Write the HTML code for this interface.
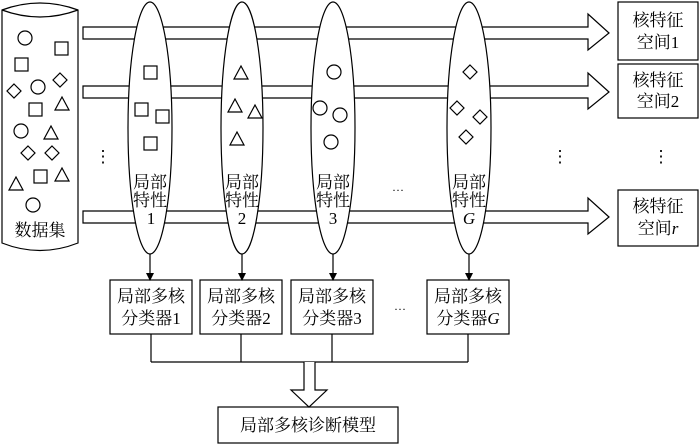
<!DOCTYPE html>
<html><head><meta charset="utf-8"><style>
html,body{margin:0;padding:0;background:#fff}
svg{display:block}
text{font-family:"Liberation Serif","Noto Serif CJK SC","Noto Sans CJK SC",serif;fill:#000}
</style></head><body>
<svg width="700" height="444" viewBox="0 0 700 444" xmlns="http://www.w3.org/2000/svg">
<defs>
<marker id="ah" markerWidth="8" markerHeight="8" refX="7" refY="4" orient="auto" markerUnits="userSpaceOnUse">
<path d="M0,0 L8,4 L0,8 Z" fill="#000"/></marker>
</defs>
<g fill="none" stroke="#000" stroke-width="1.2">
<path d="M2,10 Q40,-4 78,10 L78,243 Q40,258 2,243 Z" fill="#fff"/>
<path d="M2,10 Q40,24 78,10"/>
<path d="M83,27 L588,27 L588,14 L609,33 L588,50 L588,39 L83,39 Z" fill="#fff"/>
<path d="M83,86 L588,86 L588,73 L609,92 L588,109 L588,98 L83,98 Z" fill="#fff"/>
<path d="M83,211 L588,211 L588,198 L609,217 L588,234 L588,223 L83,223 Z" fill="#fff"/>
<ellipse cx="150" cy="128" rx="22" ry="126" fill="#fff"/>
<ellipse cx="242" cy="128" rx="21" ry="126" fill="#fff"/>
<ellipse cx="333" cy="128" rx="22" ry="126" fill="#fff"/>
<ellipse cx="469" cy="128" rx="22" ry="126" fill="#fff"/>
<rect x="618" y="2" width="80" height="58"/>
<rect x="618" y="64" width="80" height="54"/>
<rect x="618" y="190" width="80" height="56"/>
<line x1="150" y1="254" x2="150" y2="280" marker-end="url(#ah)"/>
<line x1="242" y1="254" x2="242" y2="280" marker-end="url(#ah)"/>
<line x1="333" y1="254" x2="333" y2="280" marker-end="url(#ah)"/>
<line x1="469" y1="254" x2="469" y2="280" marker-end="url(#ah)"/>
<rect x="110" y="280" width="82" height="54"/>
<rect x="200" y="280" width="82" height="54"/>
<rect x="291" y="280" width="82" height="54"/>
<rect x="427" y="280" width="82" height="54"/>
<path d="M151,334 V362 M241,334 V362 M332,334 V362 M468,334 V362 M151,362 H468"/>
<path d="M304,362 V390 H291 L309,407 L327,390 H315 V362" fill="#fff"/>
<rect x="218" y="407" width="180" height="36"/>
<circle cx="25" cy="38" r="7"/><rect x="55" y="42" width="13" height="13"/><rect x="15" y="58" width="13" height="13"/>
<path d="M60,73 L67,80 L60,87 L53,80 Z"/><path d="M14,84 L21,91 L14,98 L7,91 Z"/>
<circle cx="38" cy="87" r="7"/><path d="M55,110 L62,97 L69,110 Z"/>
<rect x="29" y="103" width="13" height="13"/><circle cx="21" cy="131" r="7"/>
<path d="M44,139 L51,126 L58,139 Z"/><path d="M28,146 L35,153 L28,160 L21,153 Z"/>
<path d="M52,146 L59,153 L52,160 L45,153 Z"/><path d="M9,190 L16,177 L23,190 Z"/>
<rect x="34" y="170" width="13" height="13"/><path d="M55,181 L62,168 L69,181 Z"/>
<circle cx="33" cy="205" r="7"/>
<rect x="144" y="66" width="13" height="13"/><rect x="135" y="103" width="13" height="13"/>
<rect x="156" y="110" width="13" height="13"/><rect x="144" y="137" width="13" height="13"/>
<path d="M234,79 L241,66 L248,79 Z"/><path d="M228,112 L235,99 L242,112 Z"/>
<path d="M248,118 L255,105 L262,118 Z"/><path d="M230,145 L237,132 L244,145 Z"/>
<circle cx="334" cy="72" r="7"/><circle cx="320" cy="108" r="7"/><circle cx="340" cy="115" r="7"/><circle cx="331" cy="142" r="7"/>
<path d="M470,65 L477,72 L470,79 L463,72 Z"/><path d="M457,101 L464,108 L457,115 L450,108 Z"/>
<path d="M480,110 L487,117 L480,124 L473,117 Z"/><path d="M466,130 L473,137 L466,144 L459,137 Z"/>
</g>
<g font-size="17" text-anchor="middle">
<text x="40" y="236">数据集</text>
<text x="150" y="188">局部</text><text x="150" y="206">特性</text><text x="151" y="224">1</text>
<text x="242" y="188">局部</text><text x="242" y="206">特性</text><text x="242" y="224">2</text>
<text x="333" y="188">局部</text><text x="333" y="206">特性</text><text x="333" y="224">3</text>
<text x="469" y="188">局部</text><text x="469" y="206">特性</text><text x="469" y="224" font-style="italic">G</text>
<text x="658" y="26">核特征</text><text x="658" y="48">空间1</text>
<text x="658" y="86">核特征</text><text x="658" y="107">空间2</text>
<text x="658" y="212">核特征</text><text x="658" y="234">空间<tspan font-style="italic">r</tspan></text>
<text x="151" y="302">局部多核</text><text x="151" y="324">分类器1</text>
<text x="241" y="302">局部多核</text><text x="241" y="324">分类器2</text>
<text x="332" y="302">局部多核</text><text x="332" y="324">分类器3</text>
<text x="468" y="302">局部多核</text><text x="468" y="324">分类器<tspan font-style="italic">G</tspan></text>
<text x="308" y="431">局部多核诊断模型</text>
<text x="103" y="162">⋮</text><text x="560" y="162">⋮</text><text x="661" y="162">⋮</text>
<text x="398" y="194" font-size="12">···</text><text x="400" y="313" font-size="12">···</text>
</g>
</svg>
</body></html>
